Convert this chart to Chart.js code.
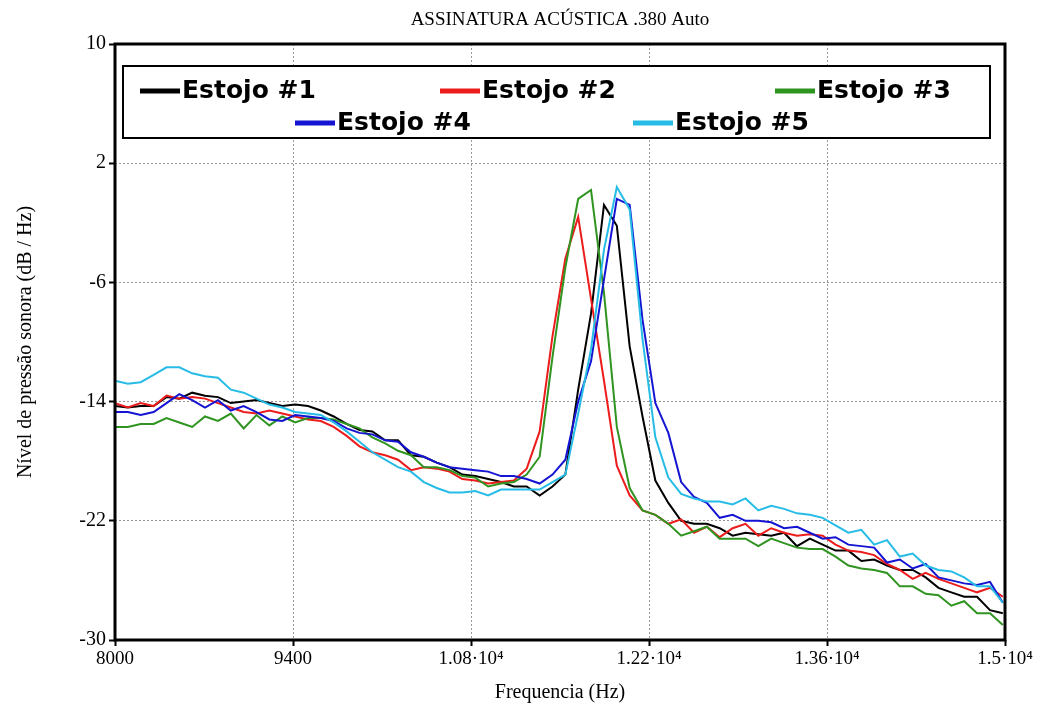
<!DOCTYPE html>
<html>
<head>
<meta charset="utf-8">
<script src="https://cdn.jsdelivr.net/npm/chart.js@4.4.1/dist/chart.umd.min.js"></script>
<style>
body{margin:0;background:#fff;}
</style>
</head>
<body>
<canvas id="grafico" width="1047" height="711"></canvas>
<script>
// frequencias das amostras (Hz)
var frequencias = [8000,8101,8202,8304,8405,8506,8607,8708,8810,8911,9012,9113,9214,9316,9417,9518,9619,9720,9822,9923,
  10024,10125,10226,10328,10429,10530,10631,10732,10834,10935,11036,11137,11238,11340,11441,11542,11643,11744,11846,11947,
  12048,12149,12250,12352,12453,12554,12655,12756,12858,12959,13060,13161,13262,13364,13465,13566,13667,13768,13870,13971,
  14072,14173,14274,14376,14477,14578,14679,14780,14882,14983];

var estojo1 = [-14.3,-14.4,-14.3,-14.3,-13.7,-13.8,-13.4,-13.6,-13.7,-14.1,-14.0,-13.9,-14.1,-14.3,-14.2,-14.3,-14.6,-15.0,-15.5,-15.9,
  -16.0,-16.6,-16.6,-17.6,-17.7,-18.1,-18.4,-18.9,-19.0,-19.2,-19.4,-19.7,-19.7,-20.3,-19.7,-18.9,-13.2,-8.1,-0.8,-2.2,
  -10.3,-15.0,-19.3,-20.8,-22.0,-22.2,-22.2,-22.5,-23.0,-22.8,-22.9,-23.0,-22.8,-23.7,-23.2,-23.6,-24.0,-24.0,-24.7,-24.6,
  -25.0,-25.3,-25.3,-25.8,-26.5,-26.8,-27.1,-27.1,-28.0,-28.2];
var estojo2 = [-14.1,-14.4,-14.1,-14.3,-13.6,-13.8,-13.7,-13.8,-14.1,-14.4,-14.7,-14.8,-14.6,-14.8,-15.0,-15.2,-15.3,-15.7,-16.3,-17.0,
  -17.4,-17.6,-17.9,-18.6,-18.4,-18.5,-18.7,-19.2,-19.3,-19.5,-19.4,-19.3,-18.5,-16.0,-9.6,-4.4,-1.6,-7.1,-12.6,-18.3,
  -20.3,-21.3,-21.6,-22.2,-21.9,-22.8,-22.4,-23.1,-22.5,-22.2,-23.0,-22.5,-22.8,-23.0,-22.9,-23.0,-23.6,-24.0,-24.1,-24.3,
  -24.9,-25.3,-25.9,-25.5,-25.9,-26.2,-26.5,-26.8,-26.5,-27.1];
var estojo3 = [-15.7,-15.7,-15.5,-15.5,-15.1,-15.4,-15.7,-15.0,-15.3,-14.8,-15.8,-14.9,-15.6,-15.0,-15.4,-15.1,-15.1,-15.2,-15.5,-15.8,
  -16.4,-16.8,-17.3,-17.6,-18.4,-18.4,-18.6,-19.0,-19.1,-19.7,-19.5,-19.4,-18.9,-17.7,-11.0,-5.0,-0.4,0.2,-6.7,-15.7,
  -19.8,-21.3,-21.6,-22.2,-23.0,-22.7,-22.4,-23.2,-23.2,-23.2,-23.7,-23.2,-23.5,-23.8,-23.9,-23.9,-24.4,-25.0,-25.2,-25.3,
  -25.5,-26.4,-26.4,-26.9,-27.0,-27.7,-27.4,-28.2,-28.2,-29.0];
var estojo4 = [-14.7,-14.7,-14.9,-14.7,-14.1,-13.5,-13.9,-14.4,-13.9,-14.6,-14.3,-14.7,-15.2,-15.3,-14.9,-15.0,-15.1,-15.3,-15.8,-16.1,
  -16.2,-16.6,-16.7,-17.4,-17.7,-18.1,-18.4,-18.5,-18.6,-18.7,-19.0,-19.0,-19.2,-19.5,-18.9,-17.9,-14.0,-11.3,-5.8,-0.4,
  -0.8,-8.5,-14.1,-16.1,-19.4,-20.4,-20.8,-21.8,-21.6,-22.0,-22.0,-22.1,-22.5,-22.4,-22.8,-23.2,-23.1,-23.6,-23.7,-23.8,
  -24.8,-24.6,-25.2,-24.9,-25.8,-26.0,-26.2,-26.3,-26.1,-27.5];
var estojo5 = [-12.6,-12.8,-12.7,-12.2,-11.7,-11.7,-12.1,-12.3,-12.4,-13.2,-13.4,-13.8,-14.2,-14.4,-14.7,-14.8,-14.9,-15.4,-16.0,-16.7,
  -17.4,-17.9,-18.4,-18.7,-19.4,-19.8,-20.1,-20.1,-20.0,-20.3,-19.9,-19.9,-19.9,-19.9,-19.4,-18.9,-14.8,-10.5,-3.8,0.4,
  -1.1,-9.8,-16.4,-19.1,-20.2,-20.5,-20.7,-20.7,-20.9,-20.5,-21.3,-21.0,-21.2,-21.5,-21.6,-21.8,-22.3,-22.8,-22.6,-23.6,
  -23.3,-24.4,-24.2,-25.0,-25.3,-25.4,-25.8,-26.4,-26.4,-27.5];

var nomes = ["Estojo #1", "Estojo #2", "Estojo #3", "Estojo #4", "Estojo #5"];
var cores = ["#000000", "#ec1c1c", "#2f9420", "#1414d2", "#26bce6"];
var ticksX = [8000, 9400, 10800, 12200, 13600, 15000];
var rotulosX = ["8000", "9400", "1.08·10⁴", "1.22·10⁴", "1.36·10⁴", "1.5·10⁴"];
var ticksY = [-30, -22, -14, -6, 2, 10];

var series = [estojo1, estojo2, estojo3, estojo4, estojo5];
var datasets = series.map(function(s, i){
  return {
    label: nomes[i],
    data: frequencias.map(function(f, j){ return {x: f, y: s[j]}; }),
    borderColor: cores[i],
    backgroundColor: cores[i],
    borderWidth: 2,
    pointRadius: 0,
    tension: 0,
    order: 5 - i
  };
});

var serif = "'Liberation Serif', 'Times New Roman', serif";

// titulo centrado na area do grafico
var tituloPlugin = {
  id: 'tituloPlugin',
  afterDraw: function(chart){
    var ctx = chart.ctx, a = chart.chartArea;
    ctx.save();
    ctx.font = "19px " + serif;
    ctx.fillStyle = "#000";
    ctx.textAlign = "center";
    ctx.textBaseline = "middle";
    ctx.fillText("ASSINATURA ACÚSTICA .380 Auto", (a.left + a.right) / 2, 20);
    ctx.restore();
  }
};

// moldura grossa + legenda dentro do grafico
var molduraLegenda = {
  id: 'molduraLegenda',
  afterDraw: function(chart){
    var ctx = chart.ctx, a = chart.chartArea;
    ctx.save();
    ctx.lineWidth = 3;
    ctx.strokeStyle = "#000";
    ctx.strokeRect(a.left, a.top, a.right - a.left, a.bottom - a.top);

    var bx = a.left + 8, by = a.top + 22, bw = a.right - a.left - 23, bh = 72;
    ctx.fillStyle = "#fff";
    ctx.fillRect(bx, by, bw, bh);
    ctx.lineWidth = 2;
    ctx.strokeRect(bx, by, bw, bh);

    var pos = [[25, 47], [325, 47], [660, 47], [180, 79], [518, 79]];
    ctx.font = "bold 25px 'DejaVu Sans', sans-serif";
    ctx.textBaseline = "middle";
    chart.data.datasets.forEach(function(ds, i){
      var x = a.left + pos[i][0], y = a.top + pos[i][1];
      ctx.fillStyle = ds.borderColor;
      ctx.fillRect(x, y - 2.5, 40, 5);
      ctx.fillStyle = "#000";
      ctx.fillText(ds.label, x + 42, y);
    });
    ctx.restore();
  }
};

var ctx = document.getElementById("grafico").getContext("2d");
var grafico = new Chart(ctx, {
  type: 'line',
  data: {datasets: datasets},
  options: {
    responsive: false,
    animation: false,
    layout: {padding: {top: 44, right: 42, left: 0, bottom: 0}},
    plugins: {legend: {display: false}, title: {display: false}, tooltip: {enabled: false}},
    scales: {
      x: {
        type: 'linear',
        min: 8000,
        max: 15000,
        afterBuildTicks: function(scale){
          scale.ticks = ticksX.map(function(v){ return {value: v}; });
        },
        afterFit: function(scale){ scale.height = 71; },
        ticks: {
          font: {family: serif, size: 19},
          color: "#000",
          padding: 2,
          maxRotation: 0,
          callback: function(v){ return rotulosX[ticksX.indexOf(v)]; }
        },
        grid: {color: "#999", lineWidth: 1, drawTicks: true, tickLength: 6, tickColor: "#000", tickWidth: 2},
        border: {display: false, dash: [2, 2]},
        title: {display: true, text: "Frequencia (Hz)", font: {family: serif, size: 20}, color: "#000", padding: {top: 0, bottom: 6}}
      },
      y: {
        min: -30,
        max: 10,
        afterBuildTicks: function(scale){
          scale.ticks = ticksY.map(function(v){ return {value: v}; });
        },
        afterFit: function(scale){ scale.width = 115; },
        ticks: {
          font: {family: serif, size: 20},
          color: "#000",
          padding: 3
        },
        grid: {color: "#999", lineWidth: 1, drawTicks: true, tickLength: 6, tickColor: "#000", tickWidth: 2},
        border: {display: false, dash: [2, 2]},
        title: {display: true, text: "Nível de pressão sonora (dB / Hz)", font: {family: serif, size: 20}, color: "#000", padding: {top: 14, bottom: 0}}
      }
    }
  },
  plugins: [tituloPlugin, molduraLegenda]
});
</script>
</body>
</html>
